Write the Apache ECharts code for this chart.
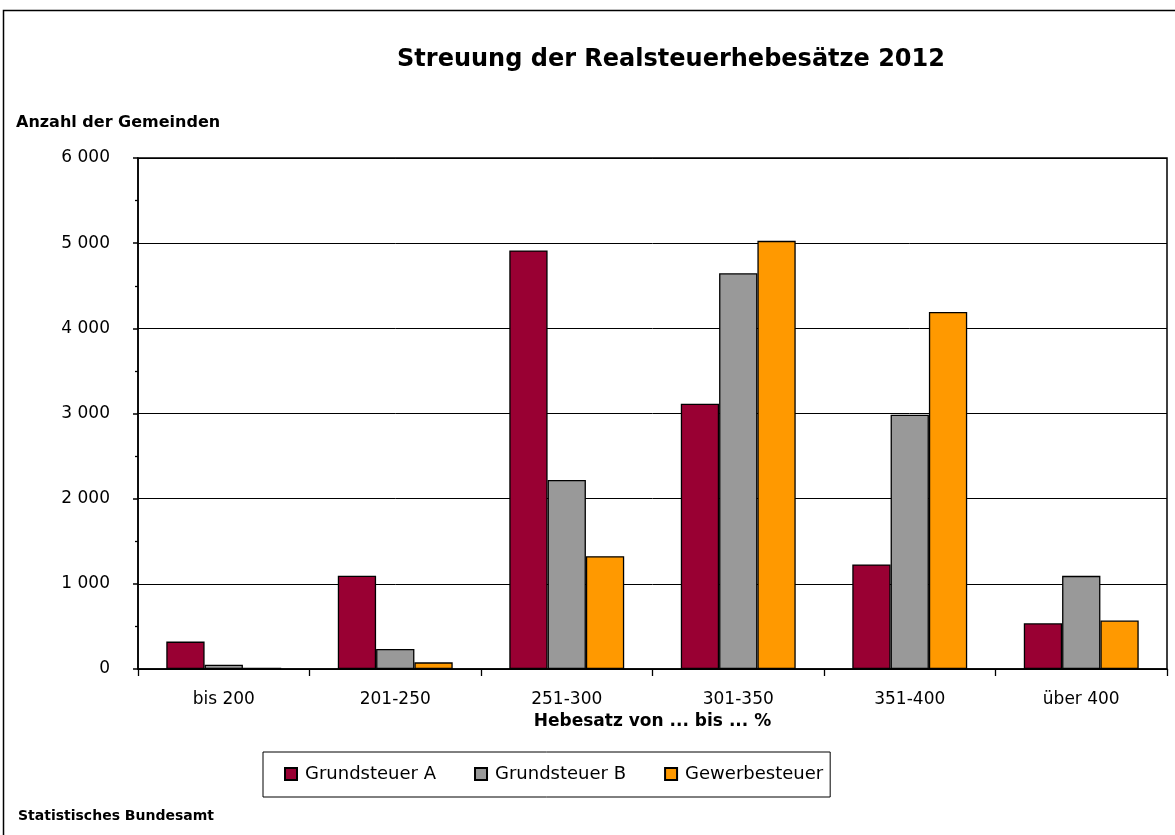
<!DOCTYPE html>
<html><head><meta charset="utf-8">
<script src="https://cdn.jsdelivr.net/npm/echarts@6/dist/echarts.min.js"></script>
<style>html,body{margin:0;padding:0;background:#fff}#c{width:1175px;height:835px}</style>
</head><body><div id="c"></div>
<script>
const categories = ['bis 200', '201-250', '251-300', '301-350', '351-400', 'über 400'];
const grundsteuerA = [322, 1095, 4915, 3115, 1228, 537];
const grundsteuerB = [50, 234, 2220, 4647, 2985, 1094];
const gewerbesteuer = [16, 78, 1325, 5027, 4192, 569];
const seriesNames = ['Grundsteuer A', 'Grundsteuer B', 'Gewerbesteuer'];
const colors = ['#990033', '#999999', '#ff9900'];
const FONT = '"DejaVu Sans", "Noto Sans", sans-serif';

const chart = echarts.init(document.getElementById('c'), null, {renderer: 'canvas'});
const fmt = v => String(v).replace(/\B(?=(\d{3})+(?!\d))/g, ' ');
const mk = (name, data, i) => ({
  name, type: 'bar', data,
  barGap: '0%', barCategoryGap: '33%',
  itemStyle: {color: colors[i], borderColor: '#000', borderWidth: 1.3}
});
chart.setOption({
  animation: false,
  backgroundColor: '#fff',
  textStyle: {fontFamily: FONT, color: '#000'},
  title: [
    {text: 'Streuung der Realsteuerhebesätze 2012', left: 666, top: 43, textAlign: 'center',
     textStyle: {fontFamily: FONT, fontSize: 24, fontWeight: 'bold', color: '#000'}},
    {text: 'Anzahl der Gemeinden', left: 11, top: 110,
     textStyle: {fontFamily: FONT, fontSize: 16, fontWeight: 'bold', color: '#000'}},
    {text: 'Statistisches Bundesamt', left: 13, top: 804,
     textStyle: {fontFamily: FONT, fontSize: 14, fontWeight: 'bold', color: '#000'}}
  ],
  graphic: [{type: 'rect', shape: {x: 3.5, y: 10.5, width: 1300, height: 1000},
    style: {fill: null, stroke: '#000', lineWidth: 1.5}, silent: true}],
  legend: {
    data: seriesNames, left: 263, top: 752,
    padding: [13, 7, 14, 21], itemGap: 38,
    itemWidth: 12, itemHeight: 12, borderColor: '#000', borderWidth: 1,
    icon: 'rect',
    textStyle: {fontFamily: FONT, fontSize: 18, color: '#000', padding: [0, 0, 0, 3]}
  },
  grid: {left: 138, right: 8, top: 158, bottom: 166, containLabel: false,
    show: true, borderColor: '#000', borderWidth: 1.5},
  xAxis: {
    type: 'category', data: categories,
    name: 'Hebesatz von ... bis ... %', nameLocation: 'middle', nameGap: 44,
    nameTextStyle: {fontFamily: FONT, fontSize: 17, fontWeight: 'bold', color: '#000'},
    axisLine: {lineStyle: {color: '#000', width: 1.5}},
    axisTick: {show: true, length: 7, lineStyle: {color: '#000', width: 1.3}},
    axisLabel: {fontFamily: FONT, fontSize: 17, color: '#000', margin: 22}
  },
  yAxis: {
    type: 'value', min: 0, max: 6000, interval: 1000,
    axisLine: {show: true, lineStyle: {color: '#000', width: 1.5}},
    axisTick: {show: true, inside: false, length: 5, lineStyle: {color: '#000', width: 1.5}},
    minorTick: {show: true, splitNumber: 2, length: 3, lineStyle: {color: '#000', width: 1.3}},
    splitLine: {show: true, lineStyle: {color: '#000', width: 1}},
    axisLabel: {fontFamily: FONT, fontSize: 17, color: '#000', margin: 28, formatter: fmt}
  },
  series: [mk(seriesNames[0], grundsteuerA, 0), mk(seriesNames[1], grundsteuerB, 1), mk(seriesNames[2], gewerbesteuer, 2)]
});
</script></body></html>
